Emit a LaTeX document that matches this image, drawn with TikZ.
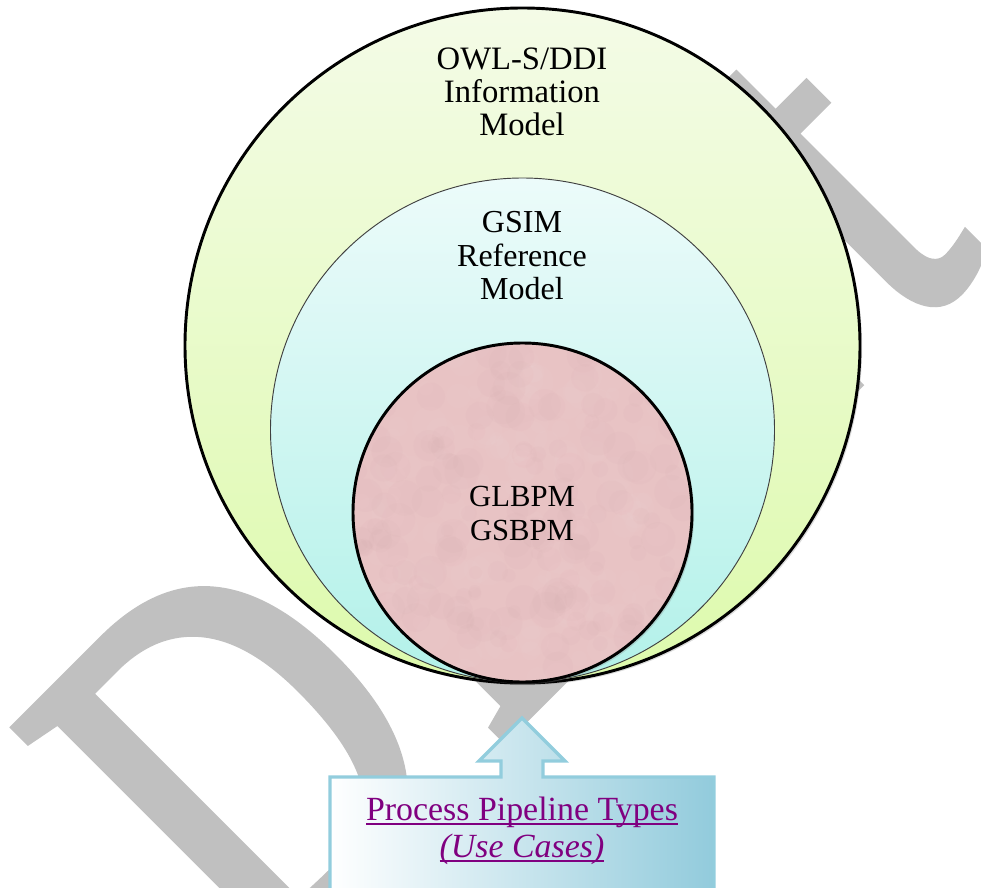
\documentclass[tikz,border=0pt]{standalone}
\usepackage{fontspec}
\setmainfont{Liberation Serif}
\newfontfamily\wmfont[FakeBold=2.5]{Liberation Serif}
\usetikzlibrary{shadows}

\definecolor{wmgrey}{RGB}{192,192,192}
\definecolor{owltop}{RGB}{244,251,231}
\definecolor{owlbot}{RGB}{221,250,172}
\definecolor{gsimtop}{RGB}{236,251,250}
\definecolor{gsimbot}{RGB}{178,241,233}
\definecolor{bpmfill}{RGB}{232,195,196}
\definecolor{bpmdark}{RGB}{205,160,163}
\definecolor{bpmlight}{RGB}{248,218,218}
\definecolor{callline}{RGB}{146,205,221}
\definecolor{callfill}{RGB}{146,203,220}
\definecolor{linkpurple}{RGB}{128,0,128}

% underline that runs just below the baseline, through the descenders
\newcommand\myuline[1]{\setbox0\hbox{#1}\rlap{\rule[-3.2pt]{\wd0}{1.4pt}}\box0}

\begin{document}
\begin{tikzpicture}[x=0.75pt,y=-0.75pt,
  wmark/.style={text=wmgrey,inner sep=0pt,font=\wmfont\fontsize{400}{400}\selectfont},
  disc/.style={circle,inner sep=0pt},
  softshadow/.style={drop shadow={opacity=0.28,shadow xshift=1.6pt,shadow yshift=-1.6pt}},
  label/.style={inner sep=0pt,align=center,anchor=north}
]
\useasboundingbox (0,0) rectangle (981,888);
\clip (0,0) rectangle (981,888);

% diagonal "Draft" mark behind the figure
\node[wmark,anchor=base west,rotate=45,xscale=0.78,transform shape] (watermark) at (256,984)
  {D\kern40pt r\kern30pt a\kern30pt f\kern50pt t};

% nested model circles, all touching at the bottom
\node[disc,softshadow,top color=owltop,bottom color=owlbot,draw=black,line width=2.2pt,
      minimum size=506.25pt] (owl) at (522.5,345.5) {};
\node[disc,top color=gsimtop,bottom color=gsimbot,draw=black!75,line width=0.7pt,
      minimum size=378pt] (gsim) at (522.5,430) {};
\node[disc,softshadow,fill=bpmfill,minimum size=254.25pt] (bpm) at (522.5,512.5) {};

% soft mottled texture of the inner disc
\begin{scope}
  \clip (bpm.center) circle [radius=169.5];
  \pgfmathsetseed{4242}
  \foreach \k in {1,...,420}{
    \pgfmathsetmacro{\px}{522.5+175*rand}
    \pgfmathsetmacro{\py}{512.5+175*rand}
    \pgfmathsetmacro{\pr}{6+12*rnd}
    \pgfmathparse{rnd<0.5 ? "bpmdark" : "bpmlight"}
    \fill[\pgfmathresult,opacity=0.06] (\px,\py) circle [radius=\pr];
  }
\end{scope}
\draw[black,line width=2.2pt] (bpm.center) circle [radius=169.5];

\node[label,font=\fontsize{24.5}{24.75}\selectfont] (owltext) at (522,47.5)
  {OWL-S/DDI\\Information\\Model};
\node[label,font=\fontsize{24}{25.1}\selectfont] (gsimtext) at (522,211.5)
  {GSIM\\Reference\\Model};
\node[label,font=\fontsize{23}{25.5}\selectfont] (bpmtext) at (522,486)
  {GLBPM\\GSBPM};

% call-out box with its upward arrow
\path[draw=callline,line width=2.6pt,line join=miter,left color=white,right color=callfill]
  (330,777) -- (501,777) -- (501,761) -- (479,761) -- (522,718) -- (565,761)
  -- (543,761) -- (543,777) -- (714,777) -- (714,900) -- (330,900) -- cycle;

\node[label,text=linkpurple,font=\fontsize{25.4}{27.75}\selectfont] (usecases) at (522,797)
  {\myuline{Process Pipeline Types}\\\myuline{\itshape(Use Cases)}};
\end{tikzpicture}
\end{document}
